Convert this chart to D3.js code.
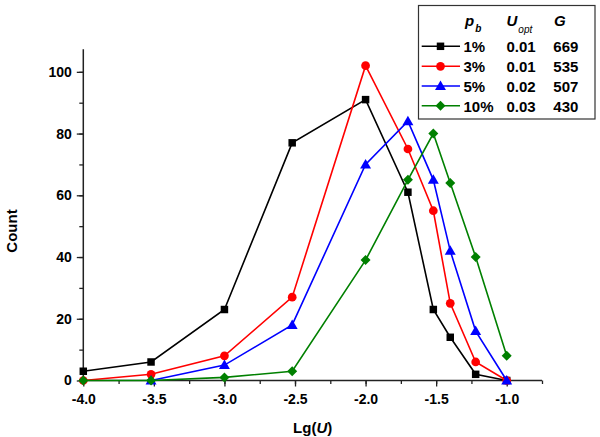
<!DOCTYPE html>
<html>
<head>
<meta charset="utf-8">
<script src="https://cdn.jsdelivr.net/npm/d3@7/dist/d3.min.js"></script>
<style>
  html, body { margin: 0; padding: 0; background: #fff; }
  svg { display: block; font-family: "Liberation Sans", Arial, sans-serif; font-weight: bold; }
</style>
</head>
<body>
<svg id="chart" width="600" height="437"></svg>
<script>
// ---- data ----
const lgU = [-4.0, -3.52, -3.0, -2.52, -2.0, -1.7, -1.52, -1.4, -1.22, -1.0];
const count1pct  = [3, 6, 23, 77, 91, 61, 23, 14, 2, 0];
const count3pct  = [0, 2, 8, 27, 102, 75, 55, 25, 6, 0];
const count5pct  = [null, 0, 5, 18, 70, 84, 65, 42, 16, 0];
const count10pct = [0, 0, 1, 3, 39, 65, 80, 64, 40, 8];
const pbLabels   = ["1%", "3%", "5%", "10%"];
const uOptLabels = ["0.01", "0.01", "0.02", "0.03"];
const gLabels    = ["669", "535", "507", "430"];
const xTicks = [-4.0, -3.5, -3.0, -2.5, -2.0, -1.5, -1.0];
const yTicks = [0, 20, 40, 60, 80, 100];

const seriesValues = [count1pct, count3pct, count5pct, count10pct];
const colors = ["#000000", "#ff0000", "#0000ff", "#008000"];
const shapes = ["square", "circle", "triangle", "diamond"];

const svg = d3.select("#chart");
const x = d3.scaleLinear().domain([-4.0, -0.75]).range([83.3, 542]);
const y = d3.scaleLinear().domain([0, 107.3]).range([380.5, 49.3]);
const axisColor = "#222";

// ---- axes ----
const xMinor = d3.range(-4.0, -0.74, 0.25);
const yMinor = d3.range(0, 107, 10);

const gx = svg.append("g").attr("transform", `translate(0,${y(0)})`);
gx.call(d3.axisBottom(x).tickValues(xMinor).tickSize(3.5).tickFormat(""))
  .call(g => g.select(".domain").remove());
gx.selectAll("line").attr("stroke", axisColor).attr("stroke-width", 1.3);
const gx2 = svg.append("g").attr("transform", `translate(0,${y(0)})`);
gx2.call(d3.axisBottom(x).tickValues(xTicks).tickSize(6).tickPadding(8).tickFormat(d3.format(".1f")))
  .call(g => g.select(".domain").attr("stroke", axisColor).attr("stroke-width", 1.5).attr("d", `M${x(-4)},0H${x(-0.75)}`));
gx2.selectAll("line").attr("stroke", axisColor).attr("stroke-width", 1.3);
gx2.selectAll("text").attr("fill", "#000").style("font-size", "14px").style("font-weight", "bold")
   .style("font-family", '"Liberation Sans", Arial, sans-serif')
   .text(d => d3.format(".1f")(d).replace("−", "-"));

const gy = svg.append("g").attr("transform", `translate(${x(-4)},0)`);
gy.call(d3.axisLeft(y).tickValues(yMinor).tickSize(4).tickFormat(""))
  .call(g => g.select(".domain").remove());
gy.selectAll("line").attr("stroke", axisColor).attr("stroke-width", 1.3);
const gy2 = svg.append("g").attr("transform", `translate(${x(-4)},0)`);
gy2.call(d3.axisLeft(y).tickValues(yTicks).tickSize(6.5).tickPadding(5))
  .call(g => g.select(".domain").attr("stroke", axisColor).attr("stroke-width", 1.5).attr("d", `M0,${y(0)}V${y(107.3)}`));
gy2.selectAll("line").attr("stroke", axisColor).attr("stroke-width", 1.3);
gy2.selectAll("text").attr("fill", "#000").style("font-size", "14px").style("font-weight", "bold")
   .style("font-family", '"Liberation Sans", Arial, sans-serif');

// axis titles
const xt = svg.append("text").attr("x", (x(-4) + x(-0.75)) / 2).attr("y", 433)
  .attr("text-anchor", "middle").style("font-size", "15px");
xt.append("tspan").text("Lg(");
xt.append("tspan").style("font-style", "italic").text("U");
xt.append("tspan").text(")");

svg.append("text").attr("transform", `translate(17,231) rotate(-90)`)
  .attr("text-anchor", "middle").style("font-size", "15px").text("Count");

// ---- symbols ----
function symbolPath(shape) {
  switch (shape) {
    case "square": return d3.symbol(d3.symbolSquare, 56)();
    case "circle": return d3.symbol(d3.symbolCircle, 60)();
    case "triangle": return d3.symbol(d3.symbolTriangle, 52)();
    case "diamond": return d3.symbol(d3.symbolSquare, 50)();
  }
}
function symbolTransform(shape, px, py) {
  if (shape === "diamond") return `translate(${px},${py}) rotate(45)`;
  if (shape === "triangle") return `translate(${px},${py + 0.8})`;
  return `translate(${px},${py})`;
}

// ---- series ----
const line = d3.line().defined(d => d.v !== null).x(d => x(d.x)).y(d => y(d.v));
seriesValues.forEach((vals, i) => {
  const pts = lgU.map((lx, j) => ({ x: lx, v: vals[j] }));
  const g = svg.append("g");
  g.append("path").datum(pts).attr("d", line)
    .attr("fill", "none").attr("stroke", colors[i]).attr("stroke-width", 1.6);
  g.selectAll("path.m").data(pts.filter(d => d.v !== null)).join("path")
    .attr("class", "m")
    .attr("d", symbolPath(shapes[i]))
    .attr("transform", d => symbolTransform(shapes[i], x(d.x), y(d.v)))
    .attr("fill", colors[i]);
});

// ---- legend ----
const lg = svg.append("g");
lg.append("rect").attr("x", 418.5).attr("y", 5.5).attr("width", 176.5).attr("height", 113.5)
  .attr("fill", "#fff").attr("stroke", "#333").attr("stroke-width", 1.2);

const hdrY = 26;
const h1 = lg.append("text").attr("x", 465).attr("y", hdrY).style("font-size", "15px");
h1.append("tspan").style("font-style", "italic").text("p");
h1.append("tspan").attr("dy", 6).attr("dx", 1).style("font-size", "10px").style("font-style", "italic").text("b");
const h2 = lg.append("text").attr("x", 506.5).attr("y", hdrY).style("font-size", "15px");
h2.append("tspan").style("font-style", "italic").text("U");
h2.append("tspan").attr("dy", 7).attr("dx", 1).style("font-size", "10px").style("font-style", "italic").style("font-weight", "normal").text("opt");
lg.append("text").attr("x", 554).attr("y", hdrY).style("font-size", "15px").style("font-style", "italic").text("G");

const rowBase = [52.3, 72.3, 92, 111.7];
pbLabels.forEach((lab, i) => {
  const cy = rowBase[i] - 6;
  lg.append("line").attr("x1", 421.7).attr("x2", 460).attr("y1", cy).attr("y2", cy)
    .attr("stroke", colors[i]).attr("stroke-width", 1.6);
  lg.append("path").attr("d", symbolPath(shapes[i]))
    .attr("transform", symbolTransform(shapes[i], 440.5, cy)).attr("fill", colors[i]);
  lg.append("text").attr("x", 463.5).attr("y", rowBase[i]).style("font-size", "15px").text(lab);
  lg.append("text").attr("x", 506.5).attr("y", rowBase[i]).style("font-size", "15px").text(uOptLabels[i]);
  lg.append("text").attr("x", 553.3).attr("y", rowBase[i]).style("font-size", "15px").text(gLabels[i]);
});
</script>
</body>
</html>
